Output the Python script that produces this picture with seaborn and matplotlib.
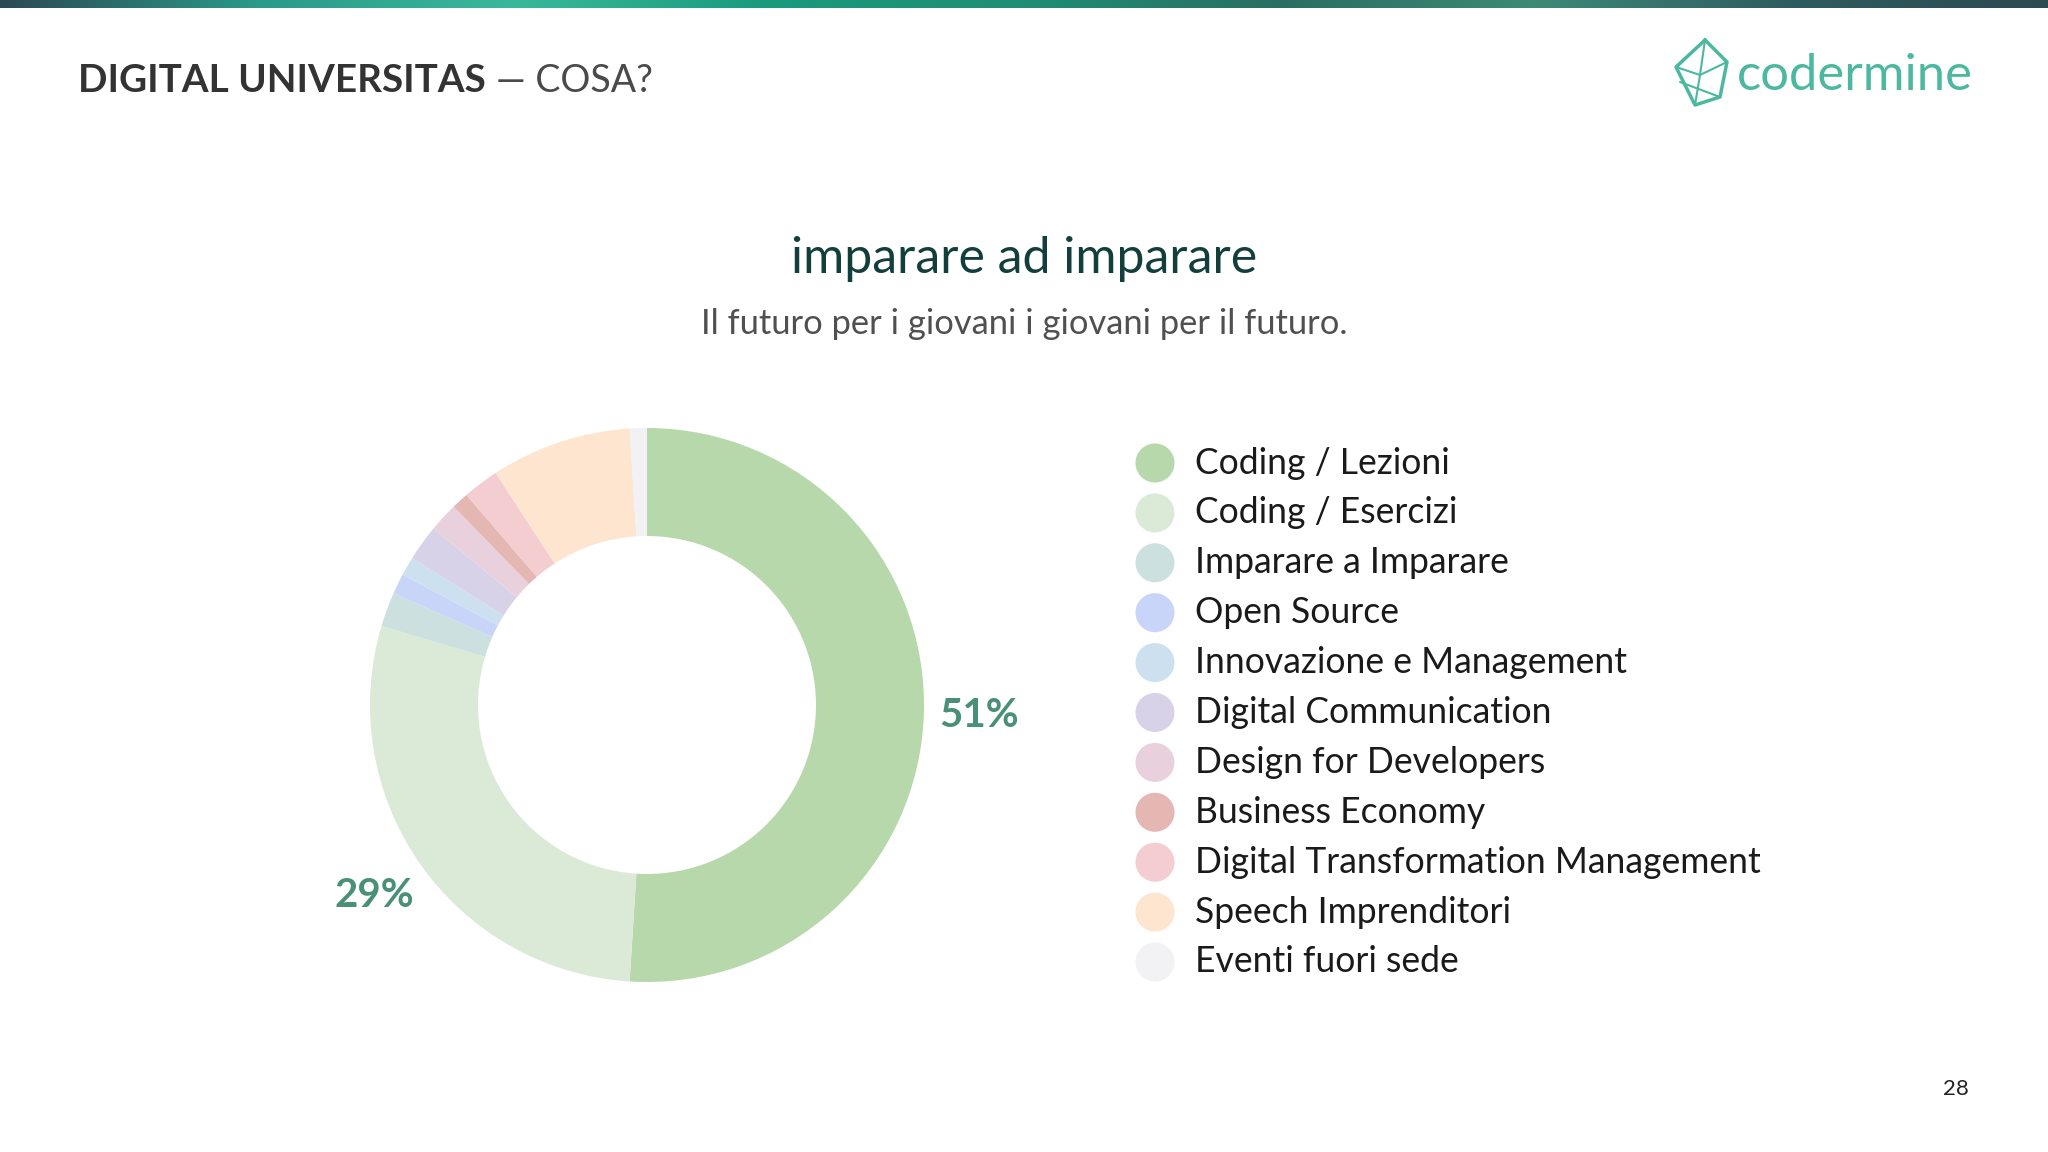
import matplotlib
matplotlib.use('Agg')
import matplotlib.pyplot as plt
from matplotlib.colors import LinearSegmentedColormap
import seaborn as sns
import numpy as np

# data
categories = ['Coding / Lezioni', 'Coding / Esercizi', 'Imparare a Imparare', 'Open Source',
              'Innovazione e Management', 'Digital Communication', 'Design for Developers',
              'Business Economy', 'Digital Transformation Management', 'Speech Imprenditori',
              'Eventi fuori sede']
shares = [51.0, 28.6, 2.0, 1.2, 1.1, 2.1, 1.7, 1.0, 2.1, 8.2, 1.0]
colors = ['#b7d8aa', '#dbead6', '#cde0e0', '#c9d5f8', '#cde0ef', '#d8d2e8',
          '#e9d0dd', '#e5b7b3', '#f4cdd0', '#fde5cf', '#f2f1f4']

title = 'imparare ad imparare'
subtitle = 'Il futuro per i giovani i giovani per il futuro.'

# style
sns.set_theme(style='white')
plt.rcParams['font.family'] = ['Lato', 'DejaVu Sans']

W, H = 2048, 1152
fig = plt.figure(figsize=(W / 100, H / 100), dpi=100)
fig.patch.set_facecolor('white')

# pixel canvas for header, legend and decorations
canvas = fig.add_axes([0, 0, 1, 1])
canvas.set_xlim(0, W)
canvas.set_ylim(H, 0)
canvas.axis('off')

# gradient stripe at the top
bar_cmap = LinearSegmentedColormap.from_list('bar', ['#2c4a54', '#2a9a8a', '#3ab89a', '#1a9a7c',
                                                     '#1f8e74', '#2a6e62', '#3d8a78', '#2f5c60',
                                                     '#2c4a52'])
canvas.imshow(np.linspace(0, 1, 256)[None, :], cmap=bar_cmap, extent=[0, W, 8, 0], aspect='auto')
canvas.set_xlim(0, W)
canvas.set_ylim(H, 0)

# header
t1 = canvas.text(78, 81, 'DIGITAL UNIVERSITAS', fontsize=27.8, fontweight='bold', color='#333333',
                 ha='left', va='center')
fig.canvas.draw()
bb = t1.get_window_extent()
canvas.text(78 + bb.width + 10, 81, '— COSA?', fontsize=27, fontweight='normal', color='#4a4a4a',
            ha='left', va='center')

# logo
icon_outer = np.array([[1705, 40], [1727, 62], [1720, 97], [1695, 105], [1676, 67], [1705, 40]])
canvas.plot(icon_outer[:, 0], icon_outer[:, 1], color='#4db8a0', lw=2.5, solid_joinstyle='round')
for seg in [([1705, 1700], [40, 75]), ([1676, 1700], [67, 75]), ([1700, 1727], [75, 62]),
            ([1700, 1695], [75, 105]), ([1680, 1720], [82, 97])]:
    canvas.plot(seg[0], seg[1], color='#4db8a0', lw=1.5)
canvas.text(1737, 76, 'codermine', fontsize=36.5, color='#4db8a0', ha='left', va='center')

# titles
canvas.text(1024, 259, title, fontsize=36, color='#123f3c', ha='center', va='center')
canvas.text(1024, 324, subtitle, fontsize=24.8, fontweight='normal', color='#505050',
            ha='center', va='center')

# page number
canvas.text(1956, 1089, '28', fontsize=16, color='#222222', ha='center', va='center')

# legend
leg_y = 463 + 49.9 * np.arange(len(categories))
canvas.scatter(np.full(len(categories), 1155), leg_y, s=790, c=colors, linewidths=0)
for y, lab in zip(leg_y, categories):
    canvas.text(1195, y, lab, fontsize=25.6, color='#1a1a1a', ha='left', va='center')

# donut
ax = fig.add_axes([370 / W, 170 / H, 554 / W, 554 / H])
wedges, texts, autotexts = ax.pie(shares, colors=colors, startangle=90, counterclock=False,
                                  wedgeprops=dict(width=0.39, linewidth=0),
                                  autopct=lambda p: '{:.0f}%'.format(p) if p > 20 else '',
                                  pctdistance=1.2)
for t in autotexts:
    t.set_fontsize(29)
    t.set_color('#4a9079')
    t.set_fontweight('bold')
ax.set_xlim(-1, 1)
ax.set_ylim(-1, 1)
ax.set_aspect('equal')

plt.savefig('out.png', dpi=100)
